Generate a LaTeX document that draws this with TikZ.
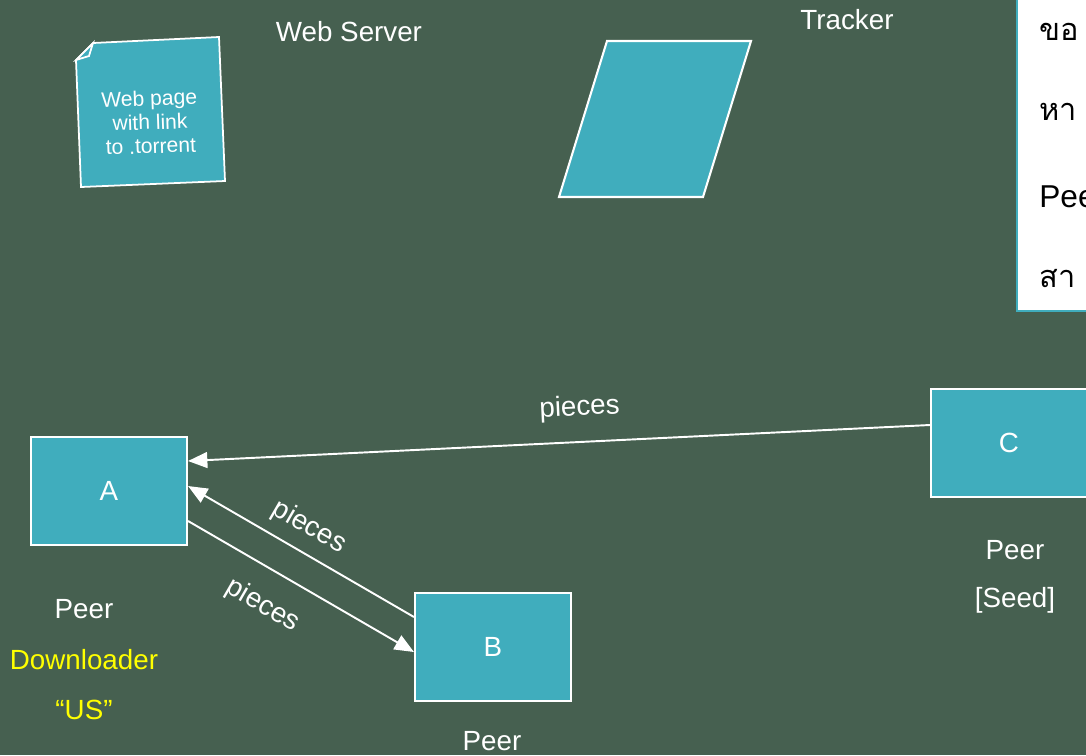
\documentclass[tikz,border=0pt]{standalone}
\usepackage{fontspec}
\setmainfont{Liberation Sans}
\newfontfamily\thaifont[Script=Thai]{Loma}
\usetikzlibrary{arrows.meta,calc}
\definecolor{board}{RGB}{70,96,80}
\definecolor{peerfill}{RGB}{64,173,189}
\definecolor{dlyellow}{RGB}{255,255,0}
\tikzset{
  peer/.style={draw=white,line width=1.2pt,fill=peerfill,text=white,
    minimum width=3.12cm,minimum height=2.16cm,font=\fontsize{15.8}{19}\selectfont},
  lbl/.style={text=white,font=\fontsize{15.8}{19}\selectfont},
  flow/.style={draw=white,line width=1.1pt,-{Triangle[length=11pt,width=9pt]}}
}
\begin{document}
\begin{tikzpicture}[x=0.02cm,y=-0.02cm]
			\useasboundingbox (0,0) rectangle (1086,755);
			\clip (0,0) rectangle (1086,755);
			\fill[board] (0,0) rectangle (1086,755);

			% web page and tracker
			\draw[draw=white,line width=1pt,fill=peerfill] (76,60) -- (93,43) -- (219,37) -- (225,181) -- (81,187) -- cycle;
			\draw[draw=white,line width=1pt,fill=peerfill] (76,60) -- (93,43) -- (89,56) -- cycle;
			\node[text=white,align=center,rotate=2,font=\fontsize{12}{13.6}\selectfont] (page) at (150,122) {Web page\\with link\\to .torrent};
			\draw[draw=white,line width=1.2pt,fill=peerfill] (607,41) -- (751,41) -- (703,197) -- (559,197) -- cycle;
			\node[lbl] (websrv)  at (349,32) {Web Server};
			\node[lbl] (tracker) at (847,20) {Tracker};

			% note box
			\draw[draw=peerfill,line width=1pt,fill=white] (1017,-10) rectangle (1100,311);
			\node[anchor=base west,inner sep=0pt,font=\thaifont\fontsize{17.5}{20}\selectfont] (n1) at (1039,40)  {ขอ};
			\node[anchor=base west,inner sep=0pt,font=\thaifont\fontsize{17.5}{20}\selectfont] (n2) at (1039,120) {หา};
			\node[anchor=base west,inner sep=0pt,font=\fontsize{18}{21}\selectfont] (n3) at (1039,207) {Peer};
			\node[anchor=base west,inner sep=0pt,font=\thaifont\fontsize{17.5}{20}\selectfont] (n4) at (1039,287) {สา};

			% peers
			\node[peer] (A) at (109,491) {A};
			\node[peer] (B) at (493,647) {B};
			\node[peer] (C) at (1009,443) {C};
			\node[lbl] (pa)  at (84,609)  {Peer};
			\node[lbl,text=dlyellow] (dl) at (84,660) {Downloader};
			\node[lbl,text=dlyellow] (us) at (84,710) {“US”};
			\node[lbl] (pb)  at (492,741) {Peer};
			\node[lbl] (pc)  at (1015,550) {Peer};
			\node[lbl] (sd)  at (1015,600) {[Seed]};

			\draw[flow] ($(C.west)+(0,-18)$) -- ($(A.east)+(0,-30)$) node [lbl,pos=0.47,sloped,above=8pt] {pieces};
			\draw[flow] ($(B.west)+(0,-30)$) -- ($(A.east)+(0,-5)$) node [lbl,pos=0.52,sloped,above=3pt] {pieces};
			\draw[flow] ($(A.east)+(0,30)$) -- ($(B.west)+(0,5)$) node [lbl,pos=0.41,sloped,below=9pt] {pieces};
\end{tikzpicture}
\end{document}
